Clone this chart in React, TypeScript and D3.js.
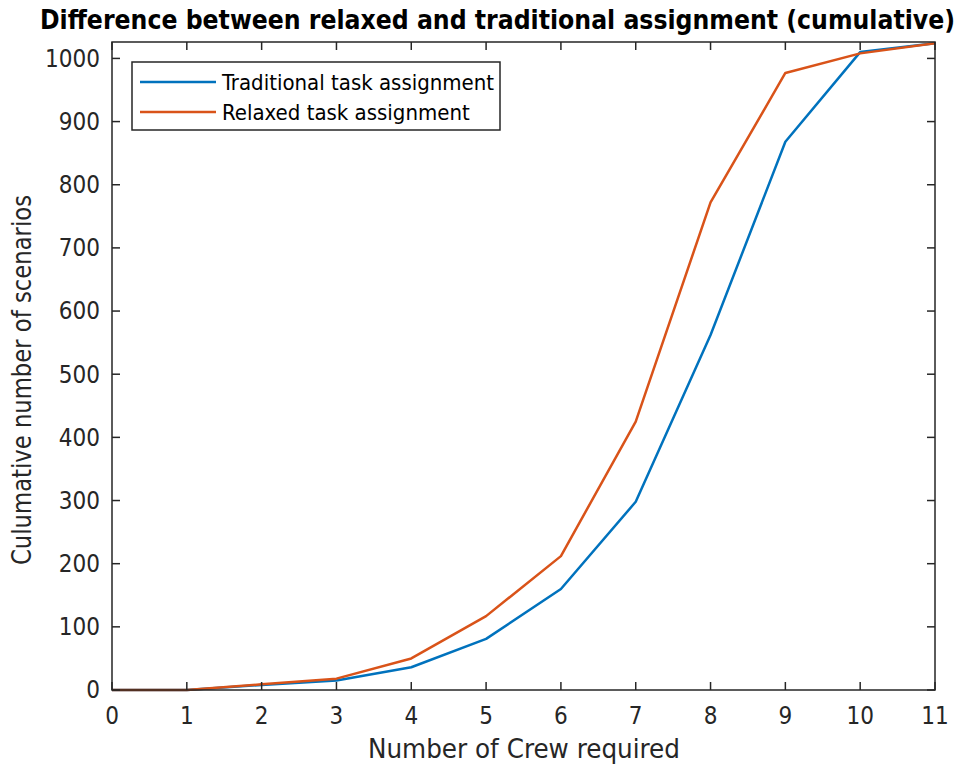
import React, { useEffect, useRef } from 'react';
import * as d3 from 'd3';

const crew = [0, 1, 2, 3, 4, 5, 6, 7, 8, 9, 10, 11];
const traditional = [0, 0, 8, 15, 36, 81, 160, 298, 562, 868, 1010, 1024];
const relaxed = [0, 0, 9, 18, 50, 117, 212, 425, 772, 977, 1008, 1024];
const yTicks = [0, 100, 200, 300, 400, 500, 600, 700, 800, 900, 1000];
const seriesNames = ['Traditional task assignment', 'Relaxed task assignment'];
const seriesColors = ['#0072BD', '#D95319'];

const W = 975;
const H = 770;
const margin = { top: 42, right: 40, bottom: 80, left: 112 };
const FONT = '"Liberation Sans Narrow", "DejaVu Sans Condensed", "Liberation Sans", Arial, sans-serif';
const AX = '#262626';

const App: React.FC = () => {
  const svgRef = useRef<SVGSVGElement>(null);

  useEffect(() => {
    if (!svgRef.current) return;
    const svg = d3.select(svgRef.current);
    svg.selectAll('*').remove();

    const x0 = margin.left;
    const x1 = W - margin.right;
    const y0 = H - margin.bottom;
    const y1 = margin.top;

    const x = d3.scaleLinear().domain([0, 11]).range([x0, x1]);
    const y = d3.scaleLinear().domain([0, 1026]).range([y0, y1]);

    svg.append('rect').attr('width', W).attr('height', H).attr('fill', '#fff');

    // lines
    const line = d3.line<number>()
      .x((_, i) => x(crew[i]))
      .y(d => y(d));

    [traditional, relaxed].forEach((s, k) => {
      svg.append('path')
        .datum(s)
        .attr('d', line)
        .attr('fill', 'none')
        .attr('stroke', seriesColors[k])
        .attr('stroke-width', 2.5)
        .attr('stroke-linejoin', 'round');
    });

    // box
    svg.append('rect')
      .attr('x', x0).attr('y', y1)
      .attr('width', x1 - x0).attr('height', y0 - y1)
      .attr('fill', 'none').attr('stroke', AX).attr('stroke-width', 1.5);

    const tl = 8;
    // x ticks
    crew.forEach(c => {
      const px = x(c);
      svg.append('line').attr('x1', px).attr('x2', px).attr('y1', y0).attr('y2', y0 - tl).attr('stroke', AX).attr('stroke-width', 1.5);
      svg.append('line').attr('x1', px).attr('x2', px).attr('y1', y1).attr('y2', y1 + tl).attr('stroke', AX).attr('stroke-width', 1.5);
      svg.append('text')
        .attr('x', px).attr('y', y0 + 34)
        .attr('text-anchor', 'middle')
        .attr('font-family', FONT).attr('font-size', 24).attr('fill', AX)
        .text(String(c));
    });

    // y ticks
    yTicks.forEach(t => {
      const py = y(t);
      svg.append('line').attr('x1', x0).attr('x2', x0 + tl).attr('y1', py).attr('y2', py).attr('stroke', AX).attr('stroke-width', 1.5);
      svg.append('line').attr('x1', x1).attr('x2', x1 - tl).attr('y1', py).attr('y2', py).attr('stroke', AX).attr('stroke-width', 1.5);
      svg.append('text')
        .attr('x', x0 - 12).attr('y', py)
        .attr('dy', '0.35em')
        .attr('text-anchor', 'end')
        .attr('font-family', FONT).attr('font-size', 24).attr('fill', AX)
        .text(String(t));
    });

    // title
    svg.append('text')
      .attr('x', 40).attr('y', 29)
      .attr('textLength', 915)
      .attr('lengthAdjust', 'spacingAndGlyphs')
      .attr('font-family', FONT).attr('font-weight', 'bold').attr('font-size', 26).attr('fill', '#000')
      .text('Difference between relaxed and traditional assignment (cumulative)');

    // axis labels
    svg.append('text')
      .attr('x', 368).attr('y', 758)
      .attr('textLength', 312)
      .attr('lengthAdjust', 'spacingAndGlyphs')
      .attr('font-family', FONT).attr('font-size', 26).attr('fill', AX)
      .text('Number of Crew required');

    svg.append('text')
      .attr('transform', `translate(31, 565) rotate(-90)`)
      .attr('textLength', 370)
      .attr('lengthAdjust', 'spacingAndGlyphs')
      .attr('font-family', FONT).attr('font-size', 26).attr('fill', AX)
      .text('Culumative number of scenarios');

    // legend
    const lg = svg.append('g').attr('transform', 'translate(132, 62)');
    lg.append('rect').attr('width', 368).attr('height', 68)
      .attr('fill', '#fff').attr('stroke', AX).attr('stroke-width', 1.5);
    seriesNames.forEach((n, i) => {
      const ly = 20 + i * 30;
      lg.append('line').attr('x1', 8).attr('x2', 84).attr('y1', ly).attr('y2', ly)
        .attr('stroke', seriesColors[i]).attr('stroke-width', 2.5);
      lg.append('text').attr('x', 90).attr('y', ly).attr('dy', '0.35em')
        .attr('font-family', FONT).attr('font-size', 22).attr('fill', '#000')
        .text(n);
    });
  }, []);

  return <svg ref={svgRef} width={W} height={H} style={{ display: 'block', position: 'absolute', left: 0, top: 0 }} />;
};

export default App;
